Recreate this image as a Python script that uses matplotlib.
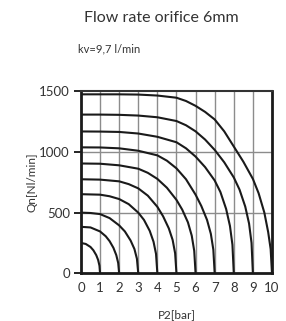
import matplotlib.pyplot as plt

# inlet pressures P1 [bar]; each curve runs from P2=0 to P2=P1
p1_values = [1, 2, 3, 4, 5, 6, 7, 8, 9, 10]

# outlet pressure P2 [bar] and flow Qn [Nl/min]
p2_1 = [0, 0.25, 0.5, 0.65, 0.8, 0.9, 0.97, 1.0]
qn_1 = [250, 242, 217, 190, 150, 110, 62, 0]

p2_2 = [0, 0.5, 1.0, 1.3, 1.5, 1.7, 1.85, 1.95, 2.0]
qn_2 = [383, 378, 345, 305, 265, 210, 150, 85, 0]

p2_3 = [0, 0.5, 1, 1.5, 2, 2.3, 2.6, 2.8, 2.93, 3.0]
qn_3 = [500, 497, 488, 455, 395, 345, 270, 200, 120, 0]

p2_4 = [0, 1, 1.5, 2, 2.5, 3, 3.3, 3.6, 3.8, 3.93, 4.0]
qn_4 = [652, 648, 635, 612, 570, 500, 440, 350, 260, 160, 0]

p2_5 = [0, 1, 2, 2.5, 3, 3.5, 4, 4.3, 4.6, 4.8, 4.93, 5.0]
qn_5 = [775, 772, 758, 735, 700, 640, 548, 470, 370, 275, 165, 0]

p2_6 = [0, 1, 2, 3, 3.5, 4, 4.5, 5, 5.3, 5.6, 5.8, 5.93, 6.0]
qn_6 = [905, 903, 890, 862, 828, 778, 705, 605, 525, 420, 310, 185, 0]

p2_7 = [0, 1, 2, 3, 4, 4.5, 5, 5.5, 6, 6.3, 6.6, 6.8, 6.93, 7.0]
qn_7 = [1038, 1037, 1030, 1010, 972, 928, 865, 775, 648, 555, 440, 325, 195, 0]

p2_8 = [0, 1, 2, 3, 4, 5, 5.5, 6, 6.5, 7, 7.3, 7.6, 7.8, 7.93, 8.0]
qn_8 = [1169, 1168, 1165, 1152, 1125, 1080, 1030, 962, 875, 765, 670, 530, 390, 235, 0]

p2_9 = [0, 1, 2, 3, 4, 5, 5.5, 6, 6.5, 7, 7.5, 8, 8.3, 8.6, 8.8, 8.93, 9.0]
qn_9 = [1308, 1308, 1306, 1300, 1286, 1255, 1220, 1170, 1102, 1017, 915, 790, 690, 550, 410, 250, 0]

p2_10 = [0, 1, 2, 3, 4, 5, 5.5, 6, 6.5, 7, 7.5, 8, 8.5, 9, 9.3, 9.6, 9.8, 9.93, 10.0]
qn_10 = [1475, 1475, 1475, 1473, 1465, 1447, 1420, 1380, 1330, 1268, 1170, 1045, 920,
         778, 660, 500, 340, 200, 0]

curves_p2 = [p2_1, p2_2, p2_3, p2_4, p2_5, p2_6, p2_7, p2_8, p2_9, p2_10]
curves_qn = [qn_1, qn_2, qn_3, qn_4, qn_5, qn_6, qn_7, qn_8, qn_9, qn_10]

x_ticks = list(range(0, 11))
y_ticks = [0, 500, 1000, 1500]

plt.rcParams["font.family"] = ["Lato", "DejaVu Sans"]
text_color = "#333333"

fig = plt.figure(figsize=(2.86, 3.21), dpi=100)
ax = fig.add_axes([0.283, 0.1486, 0.668, 0.567])

# grid lines
for x in x_ticks[1:-1]:
    ax.axvline(x, color="#8c8c8c", linewidth=1.0, zorder=1)
for y in y_ticks[1:-1]:
    ax.axhline(y, color="#8c8c8c", linewidth=1.0, zorder=1)

for p2, qn in zip(curves_p2, curves_qn):
    ax.plot(p2, qn, color="#1a1a1a", linewidth=1.5, solid_capstyle="butt",
            solid_joinstyle="round", zorder=3)

ax.set_xlim(0, 10)
ax.set_ylim(0, 1500)
ax.set_xticks(x_ticks)
ax.set_yticks(y_ticks)
ax.tick_params(axis="x", length=0, pad=6, labelsize=9.5, labelcolor=text_color)
ax.tick_params(axis="y", length=5, width=1.2, pad=3, labelsize=9.5, labelcolor=text_color)

for side in ["left", "bottom", "right"]:
    ax.spines[side].set_linewidth(2.0)
    ax.spines[side].set_color("#1a1a1a")
ax.spines["top"].set_linewidth(1.5)
ax.spines["top"].set_color("#333333")

ax.set_xlabel("P2[bar]", fontsize=8.5, color=text_color, labelpad=11)
ax.set_ylabel("Qn[Nl/min]", fontsize=8.5, color=text_color, labelpad=1)

fig.text(0.563, 0.945, "Flow rate orifice 6mm", ha="center", va="center",
         fontsize=11.5, color=text_color)
fig.text(0.272, 0.848, "kv=9,7 l/min", ha="left", va="center",
         fontsize=8, color=text_color)

fig.savefig("out.png", dpi=100, facecolor="white")
